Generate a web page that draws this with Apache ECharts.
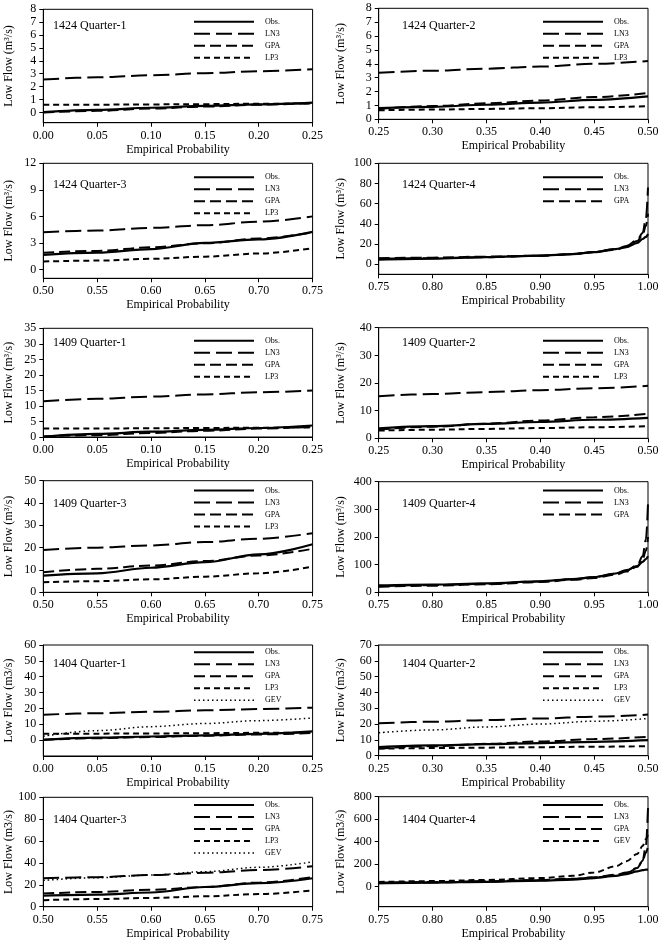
<!DOCTYPE html>
<html>
<head>
<meta charset="utf-8">
<script src="https://cdn.jsdelivr.net/npm/echarts@6/dist/echarts.min.js"></script>
<style>
  html, body { margin: 0; padding: 0; background: #fff; }
  #main { width: 664px; height: 951px; }
</style>
</head>
<body>
<div id="main"></div>
<script>
// empirical probability per quarter
var probQ1 = [0.00, 0.05, 0.10, 0.15, 0.20, 0.25];
var probQ2 = [0.25, 0.30, 0.35, 0.40, 0.45, 0.50];
var probQ3 = [0.50, 0.55, 0.60, 0.65, 0.70, 0.75];
var probQ4 = [0.75, 0.80, 0.85, 0.90, 0.93, 0.95, 0.97, 0.98, 0.99, 0.995, 0.998, 1.00];

// station 1424 (one list per quarter)
var obs1424 = [
  [0.02, 0.2, 0.36, 0.5, 0.62, 0.76],
  [0.8, 0.9, 1.05, 1.2, 1.4, 1.65],
  [1.65, 1.9, 2.3, 3.0, 3.4, 4.25],
  [4.5, 5.5, 7, 8.5, 10, 12, 15, 17, 21, 25, 27, 30]
];
var ln31424 = [
  [2.55, 2.72, 2.88, 3.04, 3.2, 3.35],
  [3.35, 3.5, 3.65, 3.8, 4.0, 4.2],
  [4.2, 4.4, 4.7, 5.0, 5.4, 6.0],
  [5.5, 6, 7, 8.5, 10, 12, 15, 18, 24, 31, 45, 76]
];
var gpa1424 = [
  [0.0, 0.12, 0.3, 0.45, 0.6, 0.72],
  [0.75, 0.95, 1.15, 1.35, 1.6, 1.9],
  [1.9, 2.1, 2.5, 2.95, 3.5, 4.2],
  [6, 6.5, 7.5, 8.5, 10, 12, 14.5, 17, 23, 29, 38, 50]
];
var lp31424 = [
  [0.6, 0.6, 0.62, 0.64, 0.67, 0.7],
  [0.65, 0.7, 0.75, 0.8, 0.87, 0.95],
  [0.9, 1.0, 1.2, 1.45, 1.8, 2.4],
  null
];

// station 1409
var obs1409 = [
  [0.1, 1.0, 1.7, 2.3, 2.9, 3.7],
  [3.6, 4.4, 5.2, 5.9, 6.7, 7.4],
  [7.5, 8.5, 11, 13.5, 17, 21.5],
  [25, 28, 32, 40, 48, 55, 68, 80, 95, 110, 120, 130]
];
var ln31409 = [
  [11.5, 12.3, 13, 13.7, 14.4, 15],
  [15.2, 16, 16.7, 17.4, 18.1, 19],
  [19, 20, 21, 22.5, 24, 26.5],
  [22, 26, 31, 39, 47, 55, 67, 78, 98, 130, 190, 320]
];
var gpa1409 = [
  [0.2, 0.6, 1.3, 2.0, 2.7, 3.3],
  [3.2, 4.2, 5.3, 6.4, 7.6, 8.9],
  [9, 10.5, 12, 14, 16.5, 19.5],
  [20, 24, 29, 37, 45, 52, 64, 75, 92, 120, 150, 200]
];
var lp31409 = [
  [2.7, 2.75, 2.8, 2.9, 3.0, 3.1],
  [2.8, 3.1, 3.4, 3.7, 4.0, 4.4],
  [4.5, 5, 5.8, 7, 8.5, 11.5],
  null
];

// station 1404
var obs1404 = [
  [0.2, 1.6, 2.3, 3.0, 4.0, 5.5],
  [5.5, 6.5, 7.3, 8.0, 8.8, 9.8],
  [10, 11, 13, 18, 21.5, 26],
  [30, 35, 42, 52, 62, 75, 95, 110, 135, 145, 150, 150]
];
var ln31404 = [
  [16, 17, 17.9, 18.8, 19.6, 20.5],
  [20.5, 21.5, 22.5, 23.5, 24.7, 26],
  [26, 27, 29, 31, 33.5, 37],
  [30, 36, 44, 55, 66, 80, 100, 120, 160, 230, 360, 700]
];
var gpa1404 = [
  [0.2, 1.2, 2.0, 2.8, 3.6, 4.5],
  [4.5, 6, 7.5, 9, 10.5, 12],
  [12, 13.5, 15.5, 18, 22, 27],
  [35, 40, 47, 58, 70, 82, 105, 125, 165, 230, 300, 360]
];
var lp31404 = [
  [4, 4.1, 4.2, 4.4, 4.6, 4.8],
  [4.5, 4.8, 5.1, 5.4, 5.7, 6],
  [6, 7, 8, 9.5, 11.5, 15],
  null
];
var gev1404 = [
  [2.5, 6, 8.5, 10.5, 12.3, 14],
  [14.5, 16.3, 18.2, 20, 21.8, 23.5],
  [24, 26.5, 29, 32, 36, 41],
  [40, 48, 58, 75, 95, 125, 180, 225, 290, 360, 420, 470]
];

// tick labels
var xTicks = [
  [0.00, 0.05, 0.10, 0.15, 0.20, 0.25],
  [0.25, 0.30, 0.35, 0.40, 0.45, 0.50],
  [0.50, 0.55, 0.60, 0.65, 0.70, 0.75],
  [0.75, 0.80, 0.85, 0.90, 0.95, 1.00]
];
var yTicks1424 = [[0, 1, 2, 3, 4, 5, 6, 7, 8], [0, 1, 2, 3, 4, 5, 6, 7, 8], [0, 3, 6, 9, 12], [0, 20, 40, 60, 80, 100]];
var yTicks1409 = [[0, 5, 10, 15, 20, 25, 30, 35], [0, 10, 20, 30, 40], [0, 10, 20, 30, 40, 50], [0, 100, 200, 300, 400]];
var yTicks1404 = [[0, 10, 20, 30, 40, 50, 60], [0, 10, 20, 30, 40, 50, 60, 70], [0, 20, 40, 60, 80, 100], [0, 200, 400, 600, 800]];
var yMin1424 = [-0.8, 0, -1, -10];
var yMin1409 = [0, 0, 0, 0];
var yMin1404 = [-10, 0, 0, -180];

var probs = [probQ1, probQ2, probQ3, probQ4];
var stations = [
  { id: '1424', unit: 'Low Flow (m\u00B3/s)', ticks: yTicks1424, mins: yMin1424,
    lines: [['Obs.', obs1424], ['LN3', ln31424], ['GPA', gpa1424], ['LP3', lp31424]] },
  { id: '1409', unit: 'Low Flow (m\u00B3/s)', ticks: yTicks1409, mins: yMin1409,
    lines: [['Obs.', obs1409], ['LN3', ln31409], ['GPA', gpa1409], ['LP3', lp31409]] },
  { id: '1404', unit: 'Low Flow (m3/s)', ticks: yTicks1404, mins: yMin1404,
    lines: [['Obs.', obs1404], ['LN3', ln31404], ['GPA', gpa1404], ['LP3', lp31404], ['GEV', gev1404]] }
];

// layout (pixels)
var colLeft = [43.3, 378.7];
var plotWidth = 269.3;
var plotTop = [[9.3, 8.3], [163.3, 163.3], [328.3, 327.7], [480.7, 481.7], [645, 645], [797.3, 796.7]];
var plotBottom = [[122.7, 119.3], [278.3, 274.3], [437, 438.3], [592.3, 592.3], [756, 755.7], [906.7, 906.7]];
var titleMid = [26.7, 185.7, 344.3, 505, 664.5, 821];
var legendMid = [21.7, 177.3, 340.7, 490.5, 652.3, 805];
var titleLeft = [53, 402];
var legendLeft = [193, 542];

var FONT = 'Liberation Serif';
var lineStyles = {
  'Obs.': { type: 'solid', width: 2.2 },
  'LN3': { type: [16, 6], width: 2 },
  'GPA': { type: [11, 5], width: 2 },
  'LP3': { type: [6, 4], width: 2 },
  'GEV': { type: [1.5, 3], width: 1.5 }
};

var option = {
  animation: false,
  backgroundColor: '#fff',
  textStyle: { fontFamily: FONT, color: '#000' },
  grid: [], xAxis: [], yAxis: [], series: [], legend: [], title: []
};

stations.forEach(function (st, s) {
  for (var q = 0; q < 4; q++) {
    var row = s * 2 + Math.floor(q / 2);
    var col = q % 2;
    var gi = option.grid.length;
    var top = plotTop[row][col];
    var h = plotBottom[row][col] - top;
    option.grid.push({
      left: colLeft[col], top: top, width: plotWidth, height: h,
      show: true, borderColor: '#000', borderWidth: 1, containLabel: false
    });
    var xt = xTicks[q];
    option.xAxis.push({
      type: 'value', gridIndex: gi, min: xt[0], max: xt[xt.length - 1],
      name: 'Empirical Probability', nameLocation: 'middle', nameGap: 21,
      nameTextStyle: { fontFamily: FONT, fontSize: 12, color: '#000' },
      axisLine: { show: true, onZero: false, lineStyle: { color: '#000', width: 1 } },
      axisTick: { show: true, inside: false, length: 4, customValues: xt, lineStyle: { color: '#000' } },
      axisLabel: { customValues: xt, margin: 7, fontFamily: FONT, fontSize: 12, color: '#000',
        formatter: function (v) { return v.toFixed(2); } },
      splitLine: { show: false }
    });
    var yt = st.ticks[q];
    option.yAxis.push({
      type: 'value', gridIndex: gi, min: st.mins[q], max: yt[yt.length - 1],
      name: st.unit, nameLocation: 'middle', nameGap: col === 0 ? 28 : 32,
      nameTextStyle: { fontFamily: FONT, fontSize: 12, color: '#000' },
      axisLine: { show: true, onZero: false, lineStyle: { color: '#000', width: 1 } },
      axisTick: { show: true, inside: false, length: 4, customValues: yt, lineStyle: { color: '#000' } },
      axisLabel: { customValues: yt, margin: 7, fontFamily: FONT, fontSize: 12, color: '#000' },
      splitLine: { show: false }
    });
    var legendData = [];
    st.lines.forEach(function (ln) {
      var vals = ln[1][q];
      if (!vals) return;
      var name = ln[0];
      var style = lineStyles[name];
      // 1404 Quarter-4 draws GEV with the short dash
      if (name === 'GEV' && q === 3) style = lineStyles['LP3'];
      var pts = probs[q].map(function (x, k) { return [x, vals[k]]; });
      option.series.push({
        type: 'line', name: name, xAxisIndex: gi, yAxisIndex: gi,
        data: pts, showSymbol: false, symbol: 'none',
        smooth: 0.35, smoothMonotone: 'x', z: name === 'Obs.' ? 3 : 2,
        itemStyle: { color: '#000' },
        lineStyle: { color: '#000', width: style.width, type: style.type }
      });
      var item = { name: name };
      if (name === 'GEV') item.lineStyle = { type: style.type, width: style.width };
      legendData.push(item);
    });
    option.legend.push({
      orient: 'vertical', left: legendLeft[col], top: legendMid[row] - 4,
      padding: 0, itemWidth: 60, itemHeight: 8, itemGap: 4,
      selectedMode: false,
      itemStyle: { opacity: 0 },
      textStyle: { fontFamily: FONT, fontSize: 8, color: '#000', padding: [0, 0, 0, 6] },
      data: legendData
    });
    option.title.push({
      text: st.id + ' Quarter-' + (q + 1),
      left: titleLeft[col], top: titleMid[row] - 7, padding: 0,
      textStyle: { fontFamily: FONT, fontSize: 12, fontWeight: 'normal', color: '#000' }
    });
  }
});

var chart = echarts.init(document.getElementById('main'));
chart.setOption(option);
</script>
</body>
</html>
